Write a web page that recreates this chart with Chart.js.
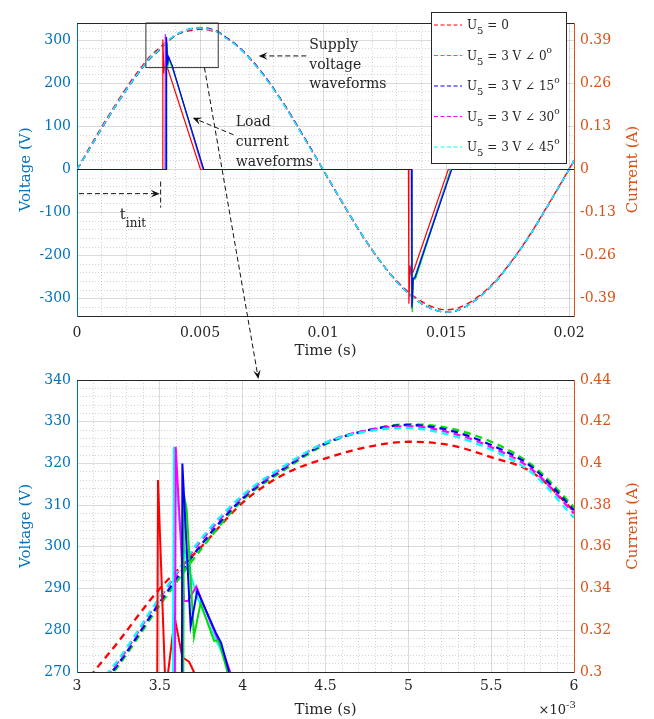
<!DOCTYPE html>
<html>
<head>
<meta charset="utf-8">
<script src="https://cdn.jsdelivr.net/npm/chart.js@4.4.1/dist/chart.umd.min.js"></script>
<style>
  html, body { margin: 0; padding: 0; background: #fff; }
  #wrap { position: relative; width: 654px; height: 719px; }
  #topChart { position: absolute; left: 0; top: 0; }
  #zoomChart { position: absolute; left: 0; top: 360px; }
  #overlay { position: absolute; left: 0; top: 0; pointer-events: none; }
</style>
</head>
<body>
<div id="wrap">
  <canvas id="topChart" width="654" height="360"></canvas>
  <canvas id="zoomChart" width="654" height="359"></canvas>
  <canvas id="overlay" width="654" height="719"></canvas>
</div>
<script>
// time in ms
const voltTime = [0, 0.5, 1, 1.5, 2, 2.5, 3, 3.25, 3.5, 3.75, 4, 4.25, 4.5, 4.75, 5, 5.25, 5.5, 5.75, 6,
  6.5, 7, 7.5, 8, 8.5, 9, 9.5, 10, 10.5, 11, 11.5, 12, 12.5, 13, 13.5, 14, 14.5, 15, 15.5, 16, 16.5, 17,
  17.5, 18, 18.5, 19, 19.5, 20, 20.2];

// supply voltage (V)
const voltU0 = [0, 50, 99, 145, 189, 229, 264.5, 277.3, 290, 300, 310.6, 317.4, 321.2, 323.9, 325.2, 324.4, 321.5, 317.8, 308.5,
  287, 259, 225, 186, 143, 96, 48, -1, -50, -98, -145, -188, -226, -259, -286, -306, -320, -325.5, -321, -307, -286, -259,
  -225, -186, -143, -96, -48, 1, 21];
const voltU0deg = [0, 47, 95, 141, 184, 224, 259, 271.5, 286, 299.5, 311.2, 318.4, 324.6, 327.9, 329.4, 328.4, 325.2, 319.5, 309.5,
  288, 260, 226, 187, 144, 97, 49, 0, -49, -97, -144, -187, -226, -261, -289, -311, -325, -331, -326, -311, -289, -261,
  -226, -187, -144, -97, -49, 0, 20];
const voltU15deg = [0, 47, 95, 141, 184, 224, 260, 272, 286.7, 300.5, 311.6, 318.8, 324.8, 327.9, 329.2, 327.9, 324.4, 319, 308.8,
  288, 260, 226, 187, 144, 97, 49, 0, -49, -97, -144, -187, -226, -261, -289, -311, -325, -331, -326, -311, -289, -261,
  -226, -187, -144, -97, -49, 0, 20];
const voltU30deg = [0, 47, 95, 141, 185, 225, 260.5, 272.5, 287.7, 301.5, 312, 319.1, 325, 327.9, 328.9, 327.4, 323.9, 318.4, 308,
  287, 259, 225, 186, 143, 96, 48, 0, -49, -97, -144, -187, -226, -261, -289, -311, -325, -331, -326, -311, -289, -261,
  -226, -187, -144, -97, -49, 0, 21];
const voltU45deg = [0, 47, 96, 142, 185, 225, 261, 273, 288, 302, 312.4, 319.4, 325, 327.7, 328.5, 326.8, 323.3, 317.6, 307,
  286, 258, 224, 185, 142, 95, 47, 0, -49, -97, -144, -187, -226, -261, -289, -311, -325, -331, -326, -311, -289, -261,
  -226, -187, -144, -97, -49, 0, 21];

// load current (A)
const curTimeU0 = [0, 3.47, 3.489, 3.535, 3.59, 3.636, 3.656, 3.676, 3.706, 5.02, 13.47, 13.49, 13.535, 13.59, 13.706, 15.09, 20.2];
const curU0 = [0, 0, 0.392, 0.29, 0.326, 0.307, 0.306, 0.305, 0.3, 0, 0, -0.405, -0.29, -0.32, -0.3, 0, 0];
const curTimeU0deg = [0, 3.63, 3.645, 3.662, 3.706, 3.746, 3.827, 3.857, 3.908, 5.15, 13.61, 13.625, 13.68, 13.76, 15.2, 20.2];
const curU0deg = [0, 0, 0.385, 0.378, 0.317, 0.333, 0.315, 0.315, 0.3, 0, 0, -0.43, -0.33, -0.33, 0, 0];
const curTimeU15deg = [0, 3.626, 3.636, 3.686, 3.726, 3.837, 3.87, 3.918, 5.15, 13.6, 13.615, 13.66, 13.74, 15.23, 20.2];
const curU15deg = [0, 0, 0.4, 0.322, 0.339, 0.319, 0.314, 0.3, 0, 0, -0.415, -0.33, -0.325, 0, 0];
const curTimeU30deg = [0, 3.577, 3.596, 3.646, 3.67, 3.72, 3.8, 3.88, 3.925, 5.12, 13.59, 13.605, 13.66, 13.75, 15.2, 20.2];
const curU30deg = [0, 0, 0.408, 0.334, 0.334, 0.341, 0.325, 0.31, 0.3, 0, 0, -0.42, -0.335, -0.325, 0, 0];
const curTimeU45deg = [0, 3.561, 3.585, 3.62, 3.666, 3.726, 3.8, 3.877, 3.918, 5.12, 13.58, 13.595, 13.65, 13.74, 15.18, 20.2];
const curU45deg = [0, 0, 0.408, 0.37, 0.352, 0.336, 0.322, 0.309, 0.3, 0, 0, -0.42, -0.33, -0.32, 0, 0];

const legendAngles = [null, 0, 15, 30, 45];

const series = [
  { volt: voltU0, curT: curTimeU0, cur: curU0 },
  { volt: voltU0deg, curT: curTimeU0deg, cur: curU0deg },
  { volt: voltU15deg, curT: curTimeU15deg, cur: curU15deg },
  { volt: voltU30deg, curT: curTimeU30deg, cur: curU30deg },
  { volt: voltU45deg, curT: curTimeU45deg, cur: curU45deg },
];
const colors = ['#ff0000', '#00e000', '#0000ff', '#ff00ff', '#00ffff'];
// lower = drawn on top
const curOrder = [4, 1, 0, 2, 3];

const BLUE = '#0072BD';
const ORANGE = '#D95319';
const INK = '#262626';
const SERIF = "'DejaVu Serif', 'Liberation Serif', serif";
const MAJOR = 'rgba(38,38,38,0.17)';
const MINOR = 'rgba(38,38,38,0.2)';

const pts = (xs, ys) => xs.map((x, i) => ({ x: x, y: ys[i] }));

const buildDatasets = (wide) => {
  const sets = [];
  series.forEach((s, i) => {
    sets.push({
      data: pts(s.curT, s.cur),
      yAxisID: 'y1',
      borderColor: colors[i],
      borderWidth: wide ? 2 : 1.2,
      pointRadius: 0,
      tension: 0,
      order: curOrder[i],
    });
    sets.push({
      data: pts(voltTime, s.volt),
      yAxisID: 'y',
      borderColor: colors[i],
      borderWidth: wide ? 2.3 : 1.4,
      borderDash: wide ? [7, 5] : [6, 4],
      pointRadius: 0,
      cubicInterpolationMode: 'monotone',
      order: 10 - i,
    });
  });
  return sets;
};

const isMult = (v, step) => Math.abs(v / step - Math.round(v / step)) < 1e-6;

const minorAxis = (pos, min, max, step, majorStep) => ({
  type: 'linear',
  position: pos,
  min: min,
  max: max,
  ticks: { display: false, stepSize: step },
  grid: {
    drawTicks: false,
    lineWidth: 1,
    color: (c) => (c.tick && isMult(c.tick.value, majorStep) ? 'transparent' : MINOR),
  },
  border: { display: false, dash: [1, 2] },
  afterFit: (s) => {
    if (pos === 'left') s.width = 0;
    else s.height = 0;
  },
});

const arrow = (ctx, x1, y1, x2, y2) => {
  const a = Math.atan2(y2 - y1, x2 - x1);
  const head = 9;
  ctx.save();
  ctx.strokeStyle = '#111';
  ctx.fillStyle = '#111';
  ctx.lineWidth = 1;
  ctx.setLineDash([5, 3]);
  ctx.beginPath();
  ctx.moveTo(x1, y1);
  ctx.lineTo(x2 - Math.cos(a) * head * 0.6, y2 - Math.sin(a) * head * 0.6);
  ctx.stroke();
  ctx.setLineDash([]);
  ctx.translate(x2, y2);
  ctx.rotate(a);
  ctx.beginPath();
  ctx.moveTo(0, 0);
  ctx.lineTo(-head, -head * 0.42);
  ctx.lineTo(-head * 0.6, 0);
  ctx.lineTo(-head, head * 0.42);
  ctx.closePath();
  ctx.fill();
  ctx.restore();
};

// draws runs of text, each {t, size, dy}
const richText = (ctx, x, y, parts, color) => {
  ctx.save();
  ctx.fillStyle = color || INK;
  ctx.textBaseline = 'alphabetic';
  ctx.textAlign = 'left';
  let cx = x;
  parts.forEach((p) => {
    ctx.font = p.size + 'px ' + SERIF;
    ctx.fillText(p.t, cx, y + (p.dy || 0));
    cx += ctx.measureText(p.t).width;
  });
  ctx.restore();
};

const rightTitle = (chart) => {
  const ctx = chart.ctx;
  const ca = chart.chartArea;
  ctx.save();
  ctx.translate(ca.right + 59, (ca.top + ca.bottom) / 2);
  ctx.rotate(-Math.PI / 2);
  ctx.font = '15px ' + SERIF;
  ctx.fillStyle = ORANGE;
  ctx.textAlign = 'center';
  ctx.textBaseline = 'middle';
  ctx.fillText('Current (A)', 0, 0);
  ctx.restore();
};

const topBorder = (chart) => {
  const ctx = chart.ctx;
  const ca = chart.chartArea;
  ctx.save();
  ctx.strokeStyle = INK;
  ctx.lineWidth = 1;
  ctx.beginPath();
  ctx.moveTo(ca.left, ca.top + 0.5);
  ctx.lineTo(ca.right, ca.top + 0.5);
  ctx.stroke();
  ctx.restore();
};

const topDecor = {
  id: 'topDecor',
  afterDraw(chart) {
    const ctx = chart.ctx;
    const ca = chart.chartArea;
    const X = (v) => chart.scales.x.getPixelForValue(v);
    const Y = (v) => chart.scales.y.getPixelForValue(v);
    topBorder(chart);
    rightTitle(chart);

    // zoom window
    ctx.save();
    ctx.strokeStyle = '#333';
    ctx.lineWidth = 1;
    ctx.strokeRect(X(2.8), Y(340), X(5.74) - X(2.8), Y(236.5) - Y(340));
    ctx.restore();

    // supply voltage note
    ['Supply', 'voltage', 'waveforms'].forEach((t, i) => {
      richText(ctx, X(9.44), Y([279.8, 233.5, 188.3][i]), [{ t: t, size: 14 }]);
    });
    arrow(ctx, X(9.32), Y(263.6), X(7.38), Y(263.6));

    // load current note
    ['Load', 'current', 'waveforms'].forEach((t, i) => {
      richText(ctx, X(6.45), Y([101.1, 54.8, 8.8][i]), [{ t: t, size: 14 }]);
    });
    arrow(ctx, X(6.36), Y(80.6), X(4.7), Y(120));

    // t_init
    arrow(ctx, X(0.08), Y(-56), X(3.36), Y(-56));
    ctx.save();
    ctx.strokeStyle = '#111';
    ctx.setLineDash([5, 3]);
    ctx.beginPath();
    ctx.moveTo(X(3.4), Y(-28));
    ctx.lineTo(X(3.4), Y(-88.5));
    ctx.stroke();
    ctx.restore();
    richText(ctx, X(1.74), Y(-114), [{ t: 't', size: 15 }, { t: 'init', size: 12, dy: 8 }]);

    // legend
    const lx = ca.right - 143;
    const ly = ca.top - 11;
    ctx.save();
    ctx.fillStyle = '#fff';
    ctx.fillRect(lx, ly, 135, 151);
    ctx.strokeStyle = INK;
    ctx.lineWidth = 1;
    ctx.strokeRect(lx + 0.5, ly + 0.5, 135, 151);
    legendAngles.forEach((ang, i) => {
      const base = ly + 17 + i * 30.5;
      ctx.strokeStyle = colors[i];
      ctx.lineWidth = 1;
      ctx.setLineDash([4, 2.5]);
      ctx.beginPath();
      ctx.moveTo(lx + 3, base - 4);
      ctx.lineTo(lx + 31, base - 4);
      ctx.stroke();
      ctx.setLineDash([]);
      const parts = [{ t: 'U', size: 12 }, { t: '5', size: 10, dy: 5 }];
      if (ang === null) {
        parts.push({ t: ' = 0', size: 12 });
      } else {
        parts.push({ t: ' = 3 V \u2220 ' + ang, size: 12 });
        parts.push({ t: 'o', size: 9, dy: -7 });
      }
      richText(ctx, lx + 36, base, parts);
    });
    ctx.restore();
  },
};

const zoomDecor = {
  id: 'zoomDecor',
  afterDraw(chart) {
    const ca = chart.chartArea;
    topBorder(chart);
    rightTitle(chart);
    const ctx = chart.ctx;
    ctx.save();
    ctx.font = '13px ' + SERIF;
    ctx.fillStyle = INK;
    ctx.textAlign = 'right';
    ctx.fillText('\u00d710', ca.right - 8, ca.bottom + 42);
    ctx.font = '10px ' + SERIF;
    ctx.textAlign = 'left';
    ctx.fillText('-3', ca.right - 8, ca.bottom + 36);
    ctx.restore();
  },
};

const makeOptions = (cfg) => ({
  responsive: false,
  animation: false,
  events: [],
  layout: { padding: { top: cfg.padTop, left: 0, right: 0, bottom: 0 } },
  plugins: { legend: { display: false }, tooltip: { enabled: false } },
  scales: {
    x: {
      type: 'linear',
      position: 'bottom',
      min: cfg.xMin,
      max: cfg.xMax,
      ticks: {
        stepSize: cfg.xStep,
        includeBounds: false,
        maxRotation: 0,
        autoSkip: false,
        padding: cfg.xPad,
        color: INK,
        font: { family: SERIF, size: 14 },
        callback: cfg.xFmt,
      },
      grid: { color: MAJOR, drawTicks: false },
      border: { color: INK },
      title: {
        display: true,
        text: 'Time (s)',
        color: INK,
        font: { family: SERIF, size: 15 },
        padding: { top: 0, bottom: 0 },
      },
      afterFit: (s) => { s.height = cfg.xHeight; },
    },
    xMinor: minorAxis('bottom', cfg.xMin, cfg.xMax, cfg.xMinorStep, cfg.xStep),
    y: {
      type: 'linear',
      position: 'left',
      min: cfg.yMin,
      max: cfg.yMax,
      ticks: {
        stepSize: cfg.yStep,
        includeBounds: false,
        padding: 6,
        color: BLUE,
        font: { family: SERIF, size: 14 },
        callback: (v) => String(v),
      },
      grid: { color: MAJOR, drawTicks: false },
      border: { color: BLUE },
      title: {
        display: true,
        text: 'Voltage (V)',
        color: BLUE,
        font: { family: SERIF, size: 15 },
        padding: { top: 17, bottom: 0 },
      },
      afterFit: (s) => { s.width = 77; },
    },
    yMinor: minorAxis('left', cfg.yMin, cfg.yMax, cfg.yMinorStep, cfg.yStep),
    y1: {
      type: 'linear',
      position: 'right',
      min: cfg.y1Min,
      max: cfg.y1Max,
      ticks: {
        stepSize: cfg.y1Step,
        includeBounds: false,
        padding: 6,
        color: ORANGE,
        font: { family: SERIF, size: 14 },
        callback: cfg.y1Fmt,
      },
      grid: { drawOnChartArea: false, drawTicks: false },
      border: { color: ORANGE },
      afterFit: (s) => { s.width = 80; },
    },
  },
});

const topChart = new Chart(document.getElementById('topChart'), {
  type: 'line',
  data: { datasets: buildDatasets(false) },
  options: makeOptions({
    padTop: 23, xMin: 0, xMax: 20.2, xStep: 5, xMinorStep: 1, xPad: 9, xHeight: 44,
    xFmt: (v) => String(+(v / 1000).toFixed(4)),
    yMin: -340, yMax: 340, yStep: 100, yMinorStep: 20,
    y1Min: -0.442, y1Max: 0.442, y1Step: 0.13,
    y1Fmt: (v) => (Math.abs(v) < 1e-9 ? '0' : v.toFixed(2)),
  }),
  plugins: [topDecor],
});

const zoomChart = new Chart(document.getElementById('zoomChart'), {
  type: 'line',
  data: { datasets: buildDatasets(true) },
  options: makeOptions({
    padTop: 20, xMin: 3, xMax: 6, xStep: 0.5, xMinorStep: 0.1, xPad: 6, xHeight: 47,
    xFmt: (v) => String(+v.toFixed(1)),
    yMin: 270, yMax: 340, yStep: 10, yMinorStep: 2,
    y1Min: 0.3, y1Max: 0.44, y1Step: 0.02,
    y1Fmt: (v) => String(+v.toFixed(2)),
  }),
  plugins: [zoomDecor],
});

// dashed pointer from the zoom window down to the zoomed plot
const drawZoomPointer = () => {
  const ctx = document.getElementById('overlay').getContext('2d');
  const x1 = topChart.scales.x.getPixelForValue(5.18);
  const y1 = topChart.scales.y.getPixelForValue(236.5);
  const x2 = zoomChart.scales.x.getPixelForValue(4.095);
  const y2 = zoomChart.scales.y.getPixelForValue(340) + 360 - 1;
  arrow(ctx, x1, y1, x2, y2);
};
drawZoomPointer();
</script>
</body>
</html>
